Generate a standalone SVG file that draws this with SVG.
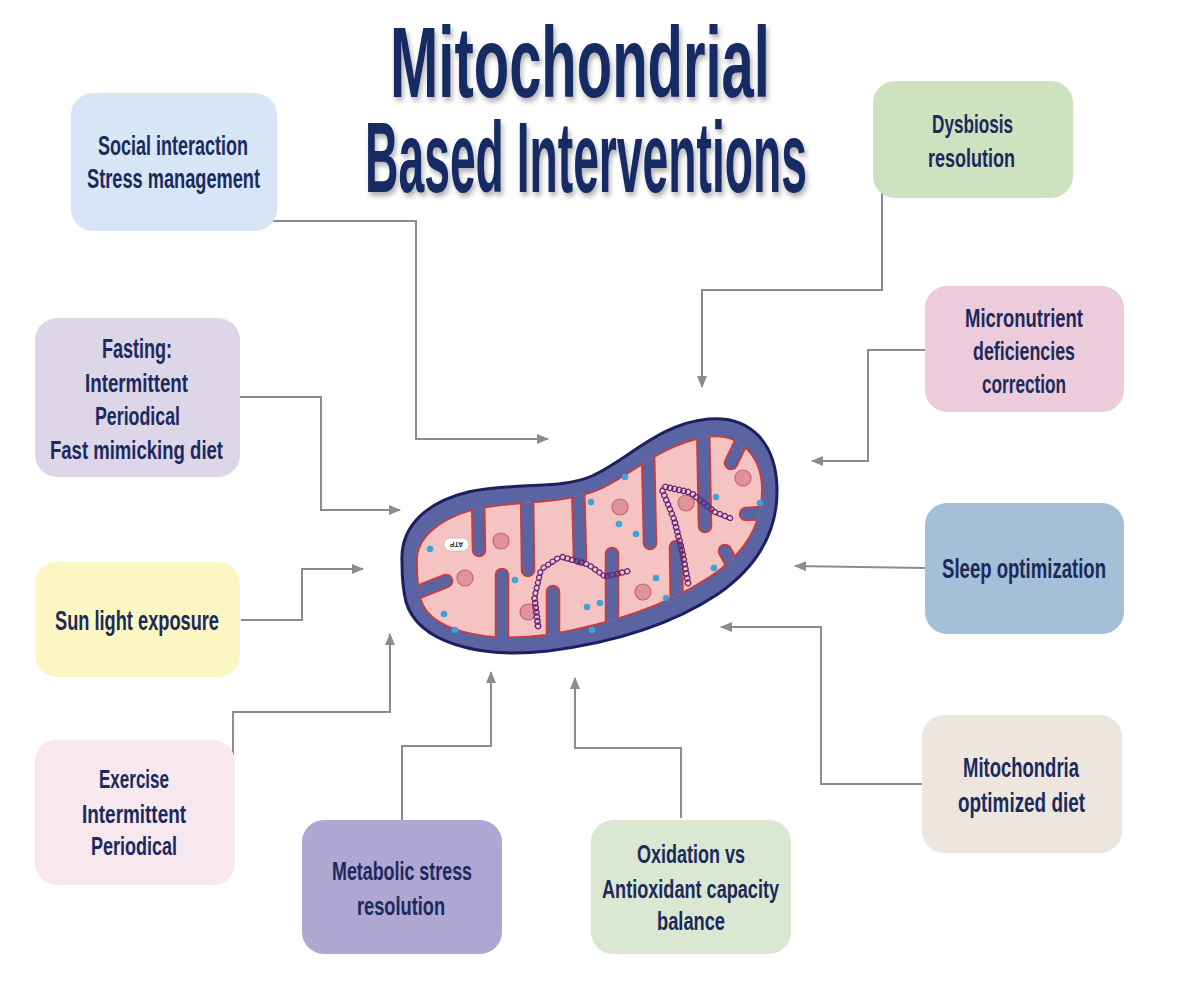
<svg xmlns="http://www.w3.org/2000/svg" xmlns:xlink="http://www.w3.org/1999/xlink" width="1178" height="981" viewBox="0 0 1178 981">
<style>
.title{font-family:"Liberation Sans",Arial,sans-serif;font-weight:bold;font-size:100px;fill:#172a63;text-anchor:middle;}
.bt{font-family:"Liberation Sans",Arial,sans-serif;font-weight:bold;fill:#1b2a5c;text-anchor:middle;}
.box{stroke:none;}
.conn{fill:none;stroke:#8c8c8c;stroke-width:2;marker-end:url(#arr);}
.dna{fill:none;stroke:#5e2878;stroke-width:1.3;}
.granule{fill:#e0939d;stroke:#c4646f;stroke-width:1.2;}
.dot{fill:#3ea3d9;}
</style>
<defs>
<filter id="shadow" x="-10%" y="-20%" width="120%" height="150%">
<feDropShadow dx="2" dy="4" stdDeviation="2.5" flood-color="#000" flood-opacity="0.3"/>
</filter>
<marker id="arr" viewBox="0 0 12 10" refX="11" refY="5" markerWidth="12" markerHeight="10" markerUnits="userSpaceOnUse" orient="auto">
<path d="M0,0 L12,5 L0,10 z" fill="#8c8c8c"/>
</marker>
<path id="pinkShape" d="M417,562 C416,538 438,520 472,510 C514,500 562,505 598,490 C632,475 660,445 706,437 C742,432 762,458 762,490 C762,525 744,555 708,578 C668,604 612,624 546,635 C484,643 430,630 421,600 C418,590 417,576 417,562 Z"/>
<g id="fingers" stroke-linecap="round" fill="none">
<line x1="478" y1="496" x2="479" y2="550"/>
<line x1="527" y1="492" x2="528" y2="570"/>
<line x1="578" y1="484" x2="580" y2="558"/>
<line x1="648" y1="452" x2="650" y2="543"/>
<line x1="703" y1="422" x2="705" y2="526"/>
<line x1="750" y1="424" x2="731" y2="463"/>
<line x1="780" y1="512" x2="746" y2="514"/>
<line x1="408" y1="596" x2="446" y2="581"/>
<line x1="502" y1="650" x2="502" y2="575"/>
<line x1="553" y1="648" x2="553" y2="592"/>
<line x1="612" y1="640" x2="612" y2="554"/>
<line x1="677" y1="625" x2="676" y2="547"/>
<line x1="745" y1="588" x2="725" y2="551"/>
</g>
<clipPath id="pinkClip"><use xlink:href="#pinkShape"/></clipPath>
<mask id="fingerMask" maskUnits="userSpaceOnUse" x="380" y="400" width="420" height="280">
<rect x="380" y="400" width="420" height="280" fill="white"/>
<use xlink:href="#fingers" stroke="black" stroke-width="11"/>
</mask>
</defs>

<rect x="0" y="0" width="1178" height="981" fill="#ffffff"/>

<g id="title" filter="url(#shadow)">
<text class="title" transform="translate(580,97) scale(0.58,1)" x="0" y="0" textLength="655" lengthAdjust="spacingAndGlyphs">Mitochondrial</text>
<text class="title" transform="translate(586,192) scale(0.47,1)" x="0" y="0" textLength="940" lengthAdjust="spacingAndGlyphs">Based Interventions</text>
</g>

<g id="connectors">
<path class="conn" d="M268,221 H416 V439 H548"/>
<path class="conn" d="M240,397 H321 V510 H400"/>
<path class="conn" d="M241,620 H302 V569 H363"/>
<path class="conn" d="M233,790 V712 H390 V634"/>
<path class="conn" d="M402,820 V746 H491 V672"/>
<path class="conn" d="M681,818 V748 H575 V678"/>
<path class="conn" d="M922,784 H821 V627 H721"/>
<path class="conn" d="M925,568 L795,566"/>
<path class="conn" d="M925,350 H868 V461 H812"/>
<path class="conn" d="M882,192 V290 H702 V387"/>
</g>

<g id="mitochondrion">
<path d="M402,562 C400,525 428,502 468,492 C512,482 560,490 592,476 C628,460 658,424 708,419 C752,415 776,445 777,488 C778,530 758,566 718,594 C676,622 618,642 548,651 C478,659 418,642 406,602 C403,590 402,576 402,562 Z" fill="#5a64a2" stroke="#1d2060" stroke-width="3"/>
<use xlink:href="#pinkShape" fill="#f6c3c3"/>
<g clip-path="url(#pinkClip)">
<use xlink:href="#fingers" stroke="#cc3b3b" stroke-width="14.5"/>
<use xlink:href="#fingers" stroke="#5a64a2" stroke-width="11"/>
</g>
<use xlink:href="#pinkShape" fill="none" stroke="#cc3b3b" stroke-width="1.8" mask="url(#fingerMask)"/>
<g id="granules">
<circle class="granule" cx="501" cy="541" r="8"/>
<circle class="granule" cx="465" cy="578" r="8"/>
<circle class="granule" cx="528" cy="612" r="8"/>
<circle class="granule" cx="620" cy="507" r="8"/>
<circle class="granule" cx="686" cy="503" r="8"/>
<circle class="granule" cx="743" cy="478" r="8"/>
<circle class="granule" cx="643" cy="592" r="8"/>
</g>
<g id="dots">
<circle class="dot" cx="430" cy="549" r="3.3"/>
<circle class="dot" cx="515" cy="580" r="3.3"/>
<circle class="dot" cx="444" cy="614" r="3.3"/>
<circle class="dot" cx="455" cy="630" r="3.3"/>
<circle class="dot" cx="591" cy="502" r="3.3"/>
<circle class="dot" cx="587" cy="607" r="3.3"/>
<circle class="dot" cx="625" cy="477" r="3.3"/>
<circle class="dot" cx="619" cy="524" r="3.3"/>
<circle class="dot" cx="636" cy="534" r="3.3"/>
<circle class="dot" cx="716" cy="497" r="3.3"/>
<circle class="dot" cx="760" cy="503" r="3.3"/>
<circle class="dot" cx="714" cy="568" r="3.3"/>
<circle class="dot" cx="656" cy="578" r="3.3"/>
<circle class="dot" cx="666" cy="598" r="3.3"/>
<circle class="dot" cx="600" cy="603" r="3.3"/>
<circle class="dot" cx="592" cy="630" r="3.3"/>
</g>
<g id="dna">
<path class="dna" d="M540,628 a2.8,2.8 0 1 1 -0.571,-4.571 a2.8,2.8 0 1 1 -0.571,-4.571 a2.8,2.8 0 1 1 -0.571,-4.571 a2.8,2.8 0 1 1 -0.571,-4.571 a2.8,2.8 0 1 1 -0.571,-4.571 a2.8,2.8 0 1 1 -0.571,-4.571 a2.8,2.8 0 1 1 -0.571,-4.571 a2.8,2.8 0 1 1 1.2,-5.2 a2.8,2.8 0 1 1 1.2,-5.2 a2.8,2.8 0 1 1 1.2,-5.2 a2.8,2.8 0 1 1 1.2,-5.2 a2.8,2.8 0 1 1 1.2,-5.2 a2.8,2.8 0 1 1 4.5,-3 a2.8,2.8 0 1 1 4.5,-3 a2.8,2.8 0 1 1 4.5,-3 a2.8,2.8 0 1 1 4.5,-3 a2.8,2.8 0 1 1 4.667,1.333 a2.8,2.8 0 1 1 4.667,1.333 a2.8,2.8 0 1 1 4.667,1.333 a2.8,2.8 0 1 1 4.667,1.333 a2.8,2.8 0 1 1 4.667,1.333 a2.8,2.8 0 1 1 4.667,1.333 a2.8,2.8 0 1 1 4.25,3 a2.8,2.8 0 1 1 4.25,3 a2.8,2.8 0 1 1 4.25,3 a2.8,2.8 0 1 1 4.25,3 a2.8,2.8 0 1 1 5,-1.2 a2.8,2.8 0 1 1 5,-1.2 a2.8,2.8 0 1 1 5,-1.2 a2.8,2.8 0 1 1 5,-1.2 a2.8,2.8 0 1 1 5,-1.2"/>
<path class="dna" d="M540,628 a3.4,3.4 0 0 0 -0.571,-4.571 a3.4,3.4 0 0 0 -0.571,-4.571 a3.4,3.4 0 0 0 -0.571,-4.571 a3.4,3.4 0 0 0 -0.571,-4.571 a3.4,3.4 0 0 0 -0.571,-4.571 a3.4,3.4 0 0 0 -0.571,-4.571 a3.4,3.4 0 0 0 -0.571,-4.571 a3.4,3.4 0 0 0 1.2,-5.2 a3.4,3.4 0 0 0 1.2,-5.2 a3.4,3.4 0 0 0 1.2,-5.2 a3.4,3.4 0 0 0 1.2,-5.2 a3.4,3.4 0 0 0 1.2,-5.2 a3.4,3.4 0 0 0 4.5,-3 a3.4,3.4 0 0 0 4.5,-3 a3.4,3.4 0 0 0 4.5,-3 a3.4,3.4 0 0 0 4.5,-3 a3.4,3.4 0 0 0 4.667,1.333 a3.4,3.4 0 0 0 4.667,1.333 a3.4,3.4 0 0 0 4.667,1.333 a3.4,3.4 0 0 0 4.667,1.333 a3.4,3.4 0 0 0 4.667,1.333 a3.4,3.4 0 0 0 4.667,1.333 a3.4,3.4 0 0 0 4.25,3 a3.4,3.4 0 0 0 4.25,3 a3.4,3.4 0 0 0 4.25,3 a3.4,3.4 0 0 0 4.25,3 a3.4,3.4 0 0 0 5,-1.2 a3.4,3.4 0 0 0 5,-1.2 a3.4,3.4 0 0 0 5,-1.2 a3.4,3.4 0 0 0 5,-1.2 a3.4,3.4 0 0 0 5,-1.2"/>
<path class="dna" d="M690,585 a2.8,2.8 0 1 1 -0.857,-4.714 a2.8,2.8 0 1 1 -0.857,-4.714 a2.8,2.8 0 1 1 -0.857,-4.714 a2.8,2.8 0 1 1 -0.857,-4.714 a2.8,2.8 0 1 1 -0.857,-4.714 a2.8,2.8 0 1 1 -0.857,-4.714 a2.8,2.8 0 1 1 -0.857,-4.714 a2.8,2.8 0 1 1 -1.143,-4.571 a2.8,2.8 0 1 1 -1.143,-4.571 a2.8,2.8 0 1 1 -1.143,-4.571 a2.8,2.8 0 1 1 -1.143,-4.571 a2.8,2.8 0 1 1 -1.143,-4.571 a2.8,2.8 0 1 1 -1.143,-4.571 a2.8,2.8 0 1 1 -1.143,-4.571 a2.8,2.8 0 1 1 -1.857,-4.571 a2.8,2.8 0 1 1 -1.857,-4.571 a2.8,2.8 0 1 1 -1.857,-4.571 a2.8,2.8 0 1 1 -1.857,-4.571 a2.8,2.8 0 1 1 -1.857,-4.571 a2.8,2.8 0 1 1 -1.857,-4.571 a2.8,2.8 0 1 1 -1.857,-4.571 a2.8,2.8 0 1 1 4.5,1 a2.8,2.8 0 1 1 4.5,1 a2.8,2.8 0 1 1 4.5,1 a2.8,2.8 0 1 1 4.5,1 a2.8,2.8 0 1 1 4.5,1 a2.8,2.8 0 1 1 4.5,1 a2.8,2.8 0 1 1 3.667,3 a2.8,2.8 0 1 1 3.667,3 a2.8,2.8 0 1 1 3.667,3 a2.8,2.8 0 1 1 3.667,3 a2.8,2.8 0 1 1 3.667,3 a2.8,2.8 0 1 1 3.667,3 a2.8,2.8 0 1 1 5,2 a2.8,2.8 0 1 1 5,2 a2.8,2.8 0 1 1 5,2 a2.8,2.8 0 1 1 5,2"/>
<path class="dna" d="M690,585 a3.4,3.4 0 0 0 -0.857,-4.714 a3.4,3.4 0 0 0 -0.857,-4.714 a3.4,3.4 0 0 0 -0.857,-4.714 a3.4,3.4 0 0 0 -0.857,-4.714 a3.4,3.4 0 0 0 -0.857,-4.714 a3.4,3.4 0 0 0 -0.857,-4.714 a3.4,3.4 0 0 0 -0.857,-4.714 a3.4,3.4 0 0 0 -1.143,-4.571 a3.4,3.4 0 0 0 -1.143,-4.571 a3.4,3.4 0 0 0 -1.143,-4.571 a3.4,3.4 0 0 0 -1.143,-4.571 a3.4,3.4 0 0 0 -1.143,-4.571 a3.4,3.4 0 0 0 -1.143,-4.571 a3.4,3.4 0 0 0 -1.143,-4.571 a3.4,3.4 0 0 0 -1.857,-4.571 a3.4,3.4 0 0 0 -1.857,-4.571 a3.4,3.4 0 0 0 -1.857,-4.571 a3.4,3.4 0 0 0 -1.857,-4.571 a3.4,3.4 0 0 0 -1.857,-4.571 a3.4,3.4 0 0 0 -1.857,-4.571 a3.4,3.4 0 0 0 -1.857,-4.571 a3.4,3.4 0 0 0 4.5,1 a3.4,3.4 0 0 0 4.5,1 a3.4,3.4 0 0 0 4.5,1 a3.4,3.4 0 0 0 4.5,1 a3.4,3.4 0 0 0 4.5,1 a3.4,3.4 0 0 0 4.5,1 a3.4,3.4 0 0 0 3.667,3 a3.4,3.4 0 0 0 3.667,3 a3.4,3.4 0 0 0 3.667,3 a3.4,3.4 0 0 0 3.667,3 a3.4,3.4 0 0 0 3.667,3 a3.4,3.4 0 0 0 3.667,3 a3.4,3.4 0 0 0 5,2 a3.4,3.4 0 0 0 5,2 a3.4,3.4 0 0 0 5,2 a3.4,3.4 0 0 0 5,2"/>
</g>
<g id="atp">
<rect x="444" y="538" width="25" height="13" rx="6.5" fill="#ffffff" stroke="#bbbbbb" stroke-width="0.8"/>
<text x="456.5" y="547" transform="rotate(180 456.5 544.5)" font-family="Liberation Sans, Arial, sans-serif" font-size="7" font-weight="bold" fill="#333333" text-anchor="middle">ATP</text>
</g>
</g>

<g id="node-social">
<rect class="box" x="71" y="93" width="206" height="138" rx="22" fill="#d7e6f7"/>
<text class="bt" font-size="28" transform="translate(173,155) scale(0.65,1)" textLength="230.8" lengthAdjust="spacingAndGlyphs">Social interaction</text>
<text class="bt" font-size="28" transform="translate(173.5,188) scale(0.65,1)" textLength="266.2" lengthAdjust="spacingAndGlyphs">Stress management</text>
</g>

<g id="node-fasting">
<rect class="box" x="35" y="318" width="205" height="159" rx="22" fill="#ddd5e8"/>
<text class="bt" font-size="27" transform="translate(137,358) scale(0.65,1)" textLength="107.7" lengthAdjust="spacingAndGlyphs">Fasting:</text>
<text class="bt" font-size="26" transform="translate(136.5,392) scale(0.65,1)" textLength="158.5" lengthAdjust="spacingAndGlyphs">Intermittent</text>
<text class="bt" font-size="26" transform="translate(137.5,425) scale(0.65,1)" textLength="130.8" lengthAdjust="spacingAndGlyphs">Periodical</text>
<text class="bt" font-size="26" transform="translate(136.5,459) scale(0.65,1)" textLength="266.2" lengthAdjust="spacingAndGlyphs">Fast mimicking diet</text>
</g>

<g id="node-sun">
<rect class="box" x="35" y="562" width="205" height="115" rx="22" fill="#fbf6c2"/>
<text class="bt" font-size="28" transform="translate(137,630) scale(0.65,1)" textLength="252.3" lengthAdjust="spacingAndGlyphs">Sun light exposure</text>
</g>

<g id="node-exercise">
<rect class="box" x="35" y="740" width="200" height="145" rx="22" fill="#f7e7ee"/>
<text class="bt" font-size="26" transform="translate(134,788) scale(0.65,1)" textLength="107.7" lengthAdjust="spacingAndGlyphs">Exercise</text>
<text class="bt" font-size="26" transform="translate(134,823) scale(0.65,1)" textLength="160" lengthAdjust="spacingAndGlyphs">Intermittent</text>
<text class="bt" font-size="26" transform="translate(134,855) scale(0.65,1)" textLength="132.3" lengthAdjust="spacingAndGlyphs">Periodical</text>
</g>

<g id="node-metabolic">
<rect class="box" x="302" y="820" width="200" height="134" rx="22" fill="#aea7d1"/>
<text class="bt" font-size="26" transform="translate(402,880) scale(0.65,1)" textLength="215.4" lengthAdjust="spacingAndGlyphs">Metabolic stress</text>
<text class="bt" font-size="26" transform="translate(401,915) scale(0.65,1)" textLength="135.4" lengthAdjust="spacingAndGlyphs">resolution</text>
</g>

<g id="node-oxidation">
<rect class="box" x="591" y="820" width="200" height="134" rx="22" fill="#dbe8d1"/>
<text class="bt" font-size="26" transform="translate(691,863) scale(0.65,1)" textLength="166.2" lengthAdjust="spacingAndGlyphs">Oxidation vs</text>
<text class="bt" font-size="26" transform="translate(690.5,898) scale(0.65,1)" textLength="272.3" lengthAdjust="spacingAndGlyphs">Antioxidant capacity</text>
<text class="bt" font-size="26" transform="translate(691,930) scale(0.65,1)" textLength="104.6" lengthAdjust="spacingAndGlyphs">balance</text>
</g>

<g id="node-mitodiet">
<rect class="box" x="922" y="715" width="200" height="138" rx="22" fill="#ede6df"/>
<text class="bt" font-size="27" transform="translate(1021,777) scale(0.65,1)" textLength="178.5" lengthAdjust="spacingAndGlyphs">Mitochondria</text>
<text class="bt" font-size="27" transform="translate(1021.5,812) scale(0.65,1)" textLength="195.4" lengthAdjust="spacingAndGlyphs">optimized diet</text>
</g>

<g id="node-sleep">
<rect class="box" x="925" y="503" width="199" height="131" rx="22" fill="#a4bfd7"/>
<text class="bt" font-size="28" transform="translate(1024,578) scale(0.65,1)" textLength="252.3" lengthAdjust="spacingAndGlyphs">Sleep optimization</text>
</g>

<g id="node-micronutrient">
<rect class="box" x="925" y="286" width="199" height="126" rx="22" fill="#ecccda"/>
<text class="bt" font-size="25" transform="translate(1024,327) scale(0.65,1)" textLength="181.5" lengthAdjust="spacingAndGlyphs">Micronutrient</text>
<text class="bt" font-size="25" transform="translate(1024,360) scale(0.65,1)" textLength="156.9" lengthAdjust="spacingAndGlyphs">deficiencies</text>
<text class="bt" font-size="25" transform="translate(1024,393) scale(0.65,1)" textLength="129.2" lengthAdjust="spacingAndGlyphs">correction</text>
</g>

<g id="node-dysbiosis">
<rect class="box" x="873" y="81" width="200" height="117" rx="22" fill="#cfe2bf"/>
<text class="bt" font-size="26" transform="translate(972.5,133) scale(0.65,1)" textLength="124.6" lengthAdjust="spacingAndGlyphs">Dysbiosis</text>
<text class="bt" font-size="26" transform="translate(971.5,167) scale(0.65,1)" textLength="133.8" lengthAdjust="spacingAndGlyphs">resolution</text>
</g>
</svg>
